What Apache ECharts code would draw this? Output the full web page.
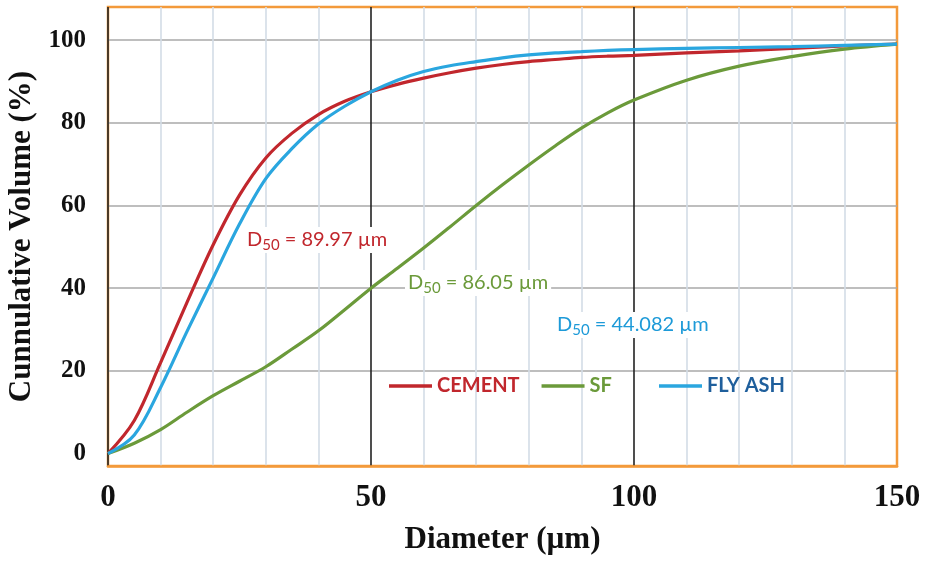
<!DOCTYPE html>
<html style="height: 100%">
<head>
  <meta charset="utf-8">
</head>
<body style="height: 100%; margin: 0; background: #fff">
  <div id="container" style="width: 928px; height: 562px"></div>
  <script type="text/javascript" src="https://cdn.jsdelivr.net/npm/echarts/dist/echarts.min.js"></script>
  <script type="text/javascript">
    // particle size (um) and cumulative volume (%)
    var diameter = [0, 5, 10, 15, 20, 25, 30, 35, 40, 45, 50, 55, 60, 65, 70, 75, 80, 85, 90, 95, 100, 110, 120, 130, 140, 150];
    var cement = [0, 8, 22, 36.5, 50.5, 62.5, 71.5, 77.5, 82, 85.2, 87.5, 89.3, 90.8, 92.1, 93.2, 94.1, 94.8, 95.3, 95.8, 96.1, 96.3, 96.9, 97.4, 98, 98.6, 99];
    var sf = [0, 2.5, 5.8, 10, 14, 17.5, 21, 25.3, 29.7, 34.8, 40, 44.8, 49.7, 54.8, 60, 65, 69.8, 74.4, 78.7, 82.4, 85.5, 90.3, 93.7, 96, 97.8, 99];
    var flyAsh = [0, 4.5, 16, 29.5, 42.5, 55.5, 66.5, 73.8, 79.7, 84, 87.5, 90.3, 92.4, 93.8, 94.8, 95.7, 96.4, 96.9, 97.2, 97.5, 97.7, 98, 98.2, 98.4, 98.7, 99];

    var xLabels = [0, 50, 100, 150];
    var yLabels = [0, 20, 40, 60, 80, 100];
    var yGrid = [20, 40, 60, 80, 100];

    var RED = '#c1272d', GREEN = '#6b9a3a', BLUE = '#2aa6df';

    function pairs(ys) {
      return diameter.map(function (d, i) { return [d, ys[i]]; });
    }

    function d50(color, value, left, top) {
      return {
        type: 'text',
        left: left,
        top: top,
        z: 100,
        style: {
          text: '{a|D}{s|50}{a| = ' + value + ' µm}',
          backgroundColor: '#fff',
          padding: [0, 3],
          rich: {
            a: { fontFamily: 'Lato', fontSize: 20, lineHeight: 26, fill: color, color: color },
            s: { fontFamily: 'Lato', fontSize: 15, lineHeight: 15, verticalAlign: 'bottom', fill: color, color: color }
          }
        }
      };
    }

    function legend(names, colors, left, gap) {
      return {
        left: left,
        top: 371,
        icon: 'rect',
        itemWidth: 43,
        itemHeight: 3.5,
        itemGap: gap,
        textStyle: { fontFamily: 'Lato', fontWeight: 'bold', fontSize: 20 },
        data: names.map(function (n, i) { return { name: n, textStyle: { color: colors[i] } }; })
      };
    }

    var myChart = echarts.init(document.getElementById('container'));
    var serif = '"Liberation Serif", "Times New Roman", serif';

    var option = {
      animation: false,
      backgroundColor: '#fff',
      grid: {
        left: 108, right: 31, top: 7, bottom: 96,
        outerBoundsMode: 'none',
        show: true,
        borderColor: '#f39a3b',
        borderWidth: 2.5
      },
      legend: [
        legend(['CEMENT', 'SF'], [RED, GREEN], 384, 22),
        legend(['FLY ASH'], ['#1f5f9c'], 654, 10)
      ],
      xAxis: {
        type: 'value',
        min: 0,
        max: 150,
        interval: 10,
        name: 'Diameter (µm)',
        nameLocation: 'middle',
        nameGap: 58,
        nameTextStyle: { fontFamily: serif, fontWeight: 'bold', fontSize: 31, color: '#111' },
        axisLine: { show: true, onZero: false, lineStyle: { color: '#f39a3b', width: 2.5 } },
        axisTick: { show: false },
        axisLabel: {
          customValues: xLabels,
          margin: 16,
          fontFamily: serif, fontWeight: 'bold', fontSize: 31, color: '#111'
        },
        splitLine: {
          show: true,
          showMaxLine: false,
          lineStyle: { color: ['#222', '#d3dce6', '#d3dce6', '#d3dce6', '#d3dce6'], width: 1.6 }
        }
      },
      yAxis: {
        type: 'value',
        min: -3,
        max: 108,
        name: 'Cunnulative Volume (%)',
        nameLocation: 'middle',
        nameGap: 68,
        nameTextStyle: { fontFamily: serif, fontWeight: 'bold', fontSize: 31, color: '#111' },
        axisLine: { show: false },
        axisTick: { show: false, customValues: yGrid },
        axisLabel: {
          customValues: yLabels,
          margin: 22,
          fontFamily: serif, fontWeight: 'bold', fontSize: 25, color: '#111'
        },
        splitLine: { show: true, lineStyle: { color: '#a8a8a8', width: 1.6 } }
      },
      series: [
        { name: 'CEMENT', type: 'line', data: pairs(cement), smooth: 0.35, symbol: 'none', lineStyle: { color: RED, width: 3.2 }, itemStyle: { color: RED } },
        { name: 'SF', type: 'line', data: pairs(sf), smooth: 0.35, symbol: 'none', lineStyle: { color: GREEN, width: 3.2 }, itemStyle: { color: GREEN } },
        { name: 'FLY ASH', type: 'line', data: pairs(flyAsh), smooth: 0.35, symbol: 'none', lineStyle: { color: BLUE, width: 3.2 }, itemStyle: { color: BLUE } }
      ],
      graphic: [
        d50(RED, '89.97', 244, 227),
        d50(GREEN, '86.05', 405, 270),
        d50('#1d9ad8', '44.082', 554, 312)
      ]
    };

    myChart.setOption(option);
  </script>
</body>
</html>
